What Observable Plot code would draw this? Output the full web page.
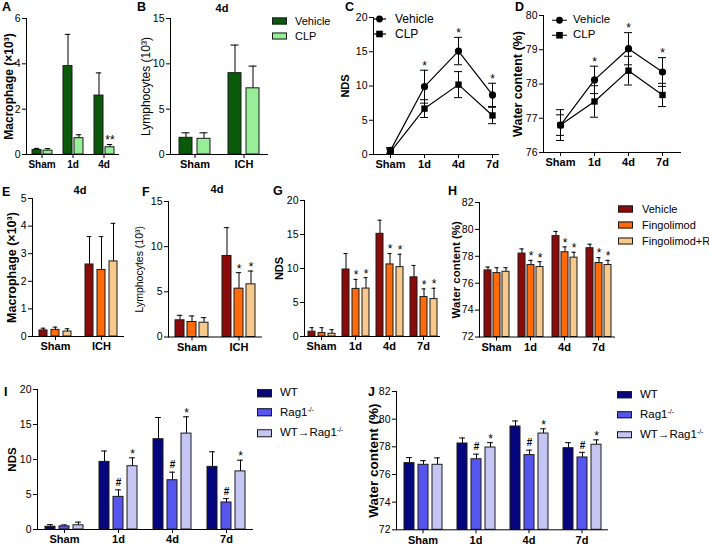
<!DOCTYPE html>
<html><head><meta charset="utf-8">
<script src="https://cdn.jsdelivr.net/npm/d3@7"></script>
<script src="https://cdn.jsdelivr.net/npm/@observablehq/plot@0.6"></script>
<style>
body{margin:0;background:#fff;font-family:"Liberation Sans",Arial,sans-serif;color:#000;}
#fig{position:relative;width:709px;height:545px;overflow:hidden;background:#fff;}
.panel{position:absolute;}
.panel svg{max-width:none !important;overflow:visible;}
.txt{position:absolute;white-space:nowrap;line-height:1;}
.letter{font-weight:bold;font-size:12.5px;}
.ttl{font-weight:bold;font-size:11px;transform:translate(-50%,-50%);}
.leg{position:absolute;display:flex;align-items:center;white-space:nowrap;line-height:1;transform:translateY(-50%);}
.sw{display:inline-block;border:1px solid #1a1a1a;box-sizing:border-box;}
sup{font-size:0.6em;vertical-align:0.6em;line-height:0;}
</style></head>
<body><div id="fig"></div>
<script>
// ---------- DATA ----------
const catsA = ["Sham", "1d", "4d"];
const catsICH = ["Sham", "ICH"];
const catsT = ["Sham", "1d", "4d", "7d"];
const grpVC = ["Vehicle", "CLP"];
const grpF = ["Vehicle", "Fingolimod", "Fingolimod+R"];
const grpR = ["WT", "Rag1-/-", "WT→Rag1-/-"];
const colVC = ["#0b5a0b", "#98ee98"];
const colF = ["#8b0a0a", "#ff6a0a", "#f8c98c"];
const colR = ["#05057e", "#5656ee", "#c6c6f4"];

// A: Macrophage (×10³)
const aVeh = [0.2, 3.9, 2.6], aVehErr = [0.07, 1.4, 1.0];
const aClp = [0.17, 0.72, 0.32], aClpErr = [0.09, 0.15, 0.12];
const aSig = [["", "", ""], ["", "", "**"]];
// B: Lymphocytes (10³), 4d
const bVeh = [1.84, 8.97], bVehErr = [0.55, 3.1];
const bClp = [1.73, 7.3], bClpErr = [0.66, 2.45];
// C: NDS
const cVeh = [0.6, 9.9, 15.1, 8.7], cVehErr = [0.4, 2.4, 2.0, 1.7];
const cClp = [0.4, 6.7, 10.2, 5.7], cClpErr = [0.4, 1.3, 1.9, 1.2];
const cSig = [["", "*", "*", "*"], ["", "", "", ""]];
// D: Water content (%)
const dVeh = [76.8, 78.12, 79.03, 78.35], dVehErr = [0.3, 0.4, 0.47, 0.42];
const dClp = [76.8, 77.49, 78.39, 77.68], dClpErr = [0.45, 0.46, 0.42, 0.34];
const dSig = [["", "*", "*", "*"], ["", "", "", ""]];
// E: Macrophage (×10³), 4d
const eVeh = [0.22, 2.61], eVehErr = [0.08, 1.01];
const eFin = [0.24, 2.41], eFinErr = [0.1, 1.21];
const eFr = [0.18, 2.72], eFrErr = [0.1, 1.38];
// F: Lymphocytes (10³), 4d
const fVeh = [1.85, 8.97], fVehErr = [0.55, 3.13];
const fFin = [1.66, 5.35], fFinErr = [0.67, 1.77];
const fFr = [1.58, 5.83], fFrErr = [0.56, 1.47];
const fSig = [["", ""], ["", "*"], ["", "*"]];
// G: NDS
const gVeh = [0.7, 9.85, 15.1, 8.7], gVehErr = [0.6, 2.35, 2.0, 1.75];
const gFin = [0.5, 7.0, 10.6, 5.8], gFinErr = [0.8, 1.4, 1.6, 1.2];
const gFr = [0.4, 7.05, 10.2, 5.5], gFrErr = [0.6, 1.6, 1.9, 1.6];
const gSig = [["", "", "", ""], ["", "*", "*", "*"], ["", "*", "*", "*"]];
// H: Water content (%)
const hVeh = [76.95, 78.2, 79.5, 78.6], hVehErr = [0.25, 0.35, 0.35, 0.3];
const hFin = [76.75, 77.35, 78.3, 77.5], hFinErr = [0.4, 0.35, 0.4, 0.4];
const hFr = [76.85, 77.2, 77.9, 77.35], hFrErr = [0.3, 0.4, 0.4, 0.35];
// I: NDS
const iWt = [0.4, 9.66, 12.9, 8.95], iWtErr = [0.3, 1.55, 3.1, 2.15];
const iRag = [0.45, 4.66, 7.04, 3.86], iRagErr = [0.2, 1.0, 1.15, 0.55];
const iWtr = [0.6, 9.04, 13.7, 8.3], iWtrErr = [0.45, 1.2, 2.4, 1.6];
const rSig = [["", "", "", ""], ["", "#", "#", "#"], ["", "*", "*", "*"]];
// J: Water content (%)
const jWt = [76.82, 78.24, 79.47, 77.9], jWtErr = [0.4, 0.4, 0.4, 0.4];
const jRag = [76.7, 77.1, 77.4, 77.23], jRagErr = [0.3, 0.37, 0.36, 0.37];
const jWtr = [76.7, 77.95, 78.96, 78.15], jWtrErr = [0.5, 0.35, 0.34, 0.35];

const ticks05 = [0, 1, 2, 3, 4, 5], ticks06 = [0, 2, 4, 6], ticks15 = [0, 5, 10, 15], ticks20 = [0, 5, 10, 15, 20];
const ticks7682 = [72, 74, 76, 78, 80, 82], ticks7680 = [76, 77, 78, 79, 80];

// ---------- HELPERS ----------
const fig = document.getElementById("fig");
const FONT = '"Liberation Sans", Arial, sans-serif';
function rows(cats, groups, means, errs, sigs) {
  const out = [];
  groups.forEach((g, gi) => cats.forEach((c, ci) => out.push({cat: c, group: g, v: means[gi][ci], e: errs[gi][ci], sig: sigs ? sigs[gi][ci] : ""})));
  return out;
}
function place(svg, left, top, lab) {
  const d = document.createElement("div");
  d.className = "panel"; d.style.left = left + "px"; d.style.top = top + "px";
  d.appendChild(svg); fig.appendChild(d);
  const l = svg.querySelector('[aria-label="y-axis label"]');
  if (l && lab) { l.style.fontSize = lab.size + "px"; l.style.fontWeight = lab.bold ? "bold" : "normal"; }
}
function sigMarks(data, fx, x) {
  const base = {fx, x, y: d => d.v + d.e, text: "sig", fill: "black", lineAnchor: "middle"};
  return [
    Plot.text(data, {...base, filter: d => d.sig && d.sig !== "#", fontSize: 12, dy: -4}),
    Plot.text(data, {...base, filter: d => d.sig === "#", fontSize: 10, fontWeight: "bold", dy: -7})
  ];
}
const fmtTick = d => String(d);
function barPanel(c) {
  const n = c.groups.length, F = (c.x1 - c.x0) / c.cats.length;
  const s = c.bw + c.gap, pi = c.gap / s, po = (F / s - n + pi) / 2;
  const mL = 30, mT = 8, mR = 4, mB = 24;
  const W = c.x1 - c.x0 + mL + mR, H = c.yBot - c.yTop + mT + mB;
  const data = rows(c.cats, c.groups, c.means, c.errs, c.sigs);
  const y0 = c.yDomain[0];
  const svg = Plot.plot({
    width: W, height: H, marginLeft: mL, marginRight: mR, marginTop: mT, marginBottom: mB,
    style: {fontFamily: FONT, fontSize: "10px", color: "black", background: "transparent", overflow: "visible"},
    fx: {domain: c.cats, padding: 0},
    x: {domain: c.groups, paddingInner: pi, paddingOuter: po, axis: null},
    y: {domain: c.yDomain},
    color: {domain: c.groups, range: c.colors},
    marks: [
      Plot.ruleX(data, {fx: "cat", x: "group", y1: "v", y2: d => d.v + d.e, stroke: "black"}),
      Plot.tickY(data, {fx: "cat", x: "group", y: d => d.v + d.e, insetLeft: c.bw * 0.2, insetRight: c.bw * 0.2, stroke: "black"}),
      Plot.barY(data, {fx: "cat", x: "group", y1: y0, y2: "v", fill: "group", stroke: "#1a1a1a", strokeWidth: 1}),
      ...sigMarks(data, "cat", "group"),
      Plot.ruleY([y0], {stroke: "black"}),
      Plot.frame({anchor: "left", facetAnchor: "left", stroke: "black"}),
      Plot.axisY({ticks: c.yTicks, tickFormat: fmtTick, tickSize: 4, tickPadding: 2, fontSize: c.fy || 10.5, label: c.ylabel, labelAnchor: "center", labelArrow: "none", labelOffset: c.x0 - c.labCx + 5}),
      Plot.axisFx({anchor: "bottom", tickSize: 4, tickPadding: 2, fontSize: c.fx || 11, fontWeight: "bold", label: null})
    ]
  });
  place(svg, c.x0 - mL, c.yTop - mT, c.lab);
}
function linePanel(c) {
  const mL = 30, mT = 8, mR = 4, mB = 24;
  const W = c.x1 - c.x0 + mL + mR, H = c.yBot - c.yTop + mT + mB;
  const data = rows(c.cats, c.groups, c.means, c.errs, c.sigs);
  const svg = Plot.plot({
    width: W, height: H, marginLeft: mL, marginRight: mR, marginTop: mT, marginBottom: mB,
    style: {fontFamily: FONT, fontSize: "10px", color: "black", background: "transparent", overflow: "visible"},
    x: {type: "point", domain: c.cats, padding: 0, insetLeft: c.inL, insetRight: c.inR},
    y: {domain: c.yDomain},
    symbol: {domain: c.groups, range: ["circle", "square"]},
    marks: [
      Plot.ruleX(data, {x: "cat", y1: d => d.v - d.e, y2: d => d.v + d.e, stroke: "black"}),
      Plot.ruleY(data, {x1: "cat", x2: "cat", y: d => d.v + d.e, insetLeft: -4, insetRight: -4, stroke: "black"}),
      Plot.ruleY(data, {x1: "cat", x2: "cat", y: d => d.v - d.e, insetLeft: -4, insetRight: -4, stroke: "black"}),
      Plot.line(data, {x: "cat", y: "v", z: "group", stroke: "black", strokeWidth: 1.2}),
      Plot.dot(data, {x: "cat", y: "v", symbol: "group", fill: "black", r: 3.6}),
      ...sigMarks(data, undefined, "cat"),
      Plot.frame({anchor: "left", stroke: "black"}),
      Plot.frame({anchor: "bottom", stroke: "black"}),
      Plot.axisY({ticks: c.yTicks, tickFormat: fmtTick, tickSize: 4, tickPadding: 2, fontSize: 10.5, label: c.ylabel, labelAnchor: "center", labelArrow: "none", labelOffset: c.x0 - c.labCx + 5}),
      Plot.axisX({tickSize: 4, tickPadding: 2, fontSize: 11, fontWeight: "bold", label: null})
    ]
  });
  place(svg, c.x0 - mL, c.yTop - mT, c.lab);
}
function text(cls, str, x, y) {
  const d = document.createElement("div");
  d.className = "txt " + cls; d.textContent = str;
  d.style.left = x + "px"; d.style.top = y + "px"; fig.appendChild(d);
}
function fmt(g) { return g.replace(/-\/-/g, "<sup>-/-</sup>"); }
function swatchLegend(groups, colors, x, ys, size, sw) {
  groups.forEach((g, i) => {
    const d = document.createElement("div");
    d.className = "leg"; d.style.left = x + "px"; d.style.top = ys[i] + "px"; d.style.fontSize = size + "px";
    d.innerHTML = `<span class="sw" style="width:${sw[0]}px;height:${sw[1]}px;background:${colors[i]};margin-right:${sw[2]}px"></span><span>${fmt(g)}</span>`;
    fig.appendChild(d);
  });
}
function lineLegend(groups, x, ys, size, len, gapTxt) {
  const syms = ["circle", "square"];
  groups.forEach((g, i) => {
    const d = document.createElement("div");
    d.className = "leg"; d.style.left = x + "px"; d.style.top = ys[i] + "px"; d.style.fontSize = size + "px";
    const m = len / 2;
    const mk = syms[i] === "circle" ? `<circle cx="${m}" cy="5" r="3.4" fill="black"/>` : `<rect x="${m - 3.3}" y="1.7" width="6.6" height="6.6" fill="black"/>`;
    d.innerHTML = `<svg width="${len}" height="10" style="margin-right:${gapTxt}px"><line x1="0" x2="${len}" y1="5" y2="5" stroke="black" stroke-width="1.2"/>${mk}</svg><span>${g}</span>`;
    fig.appendChild(d);
  });
}

// ---------- PANELS ----------
function safe(f, c) { try { f(c); } catch (e) { console.error(e); } }
safe(barPanel, {x0: 25, x1: 120, yTop: 18, yBot: 154, cats: catsA, groups: grpVC, colors: colVC,
  means: [aVeh, aClp], errs: [aVehErr, aClpErr], sigs: aSig, yDomain: [0, 6], yTicks: ticks06,
  ylabel: "Macrophage (×10³)", labCx: 8, lab: {size: 12, bold: true}, bw: 9, gap: 2.5, fx: 10});
safe(barPanel, {x0: 170, x1: 268, yTop: 18, yBot: 154, cats: catsICH, groups: grpVC, colors: colVC,
  means: [bVeh, bClp], errs: [bVehErr, bClpErr], yDomain: [0, 15], yTicks: ticks15,
  ylabel: "Lymphocytes (10³)", labCx: 146, lab: {size: 12, bold: false}, bw: 12.5, gap: 5.5});
safe(linePanel, {x0: 373, x1: 498, yTop: 17, yBot: 154, cats: catsT, groups: grpVC,
  means: [cVeh, cClp], errs: [cVehErr, cClpErr], sigs: cSig, yDomain: [0, 20], yTicks: ticks20,
  ylabel: "NDS", labCx: 346, lab: {size: 11, bold: true}, inL: 16, inR: 5});
safe(linePanel, {x0: 543, x1: 680, yTop: 15, yBot: 152, cats: catsT, groups: grpVC,
  means: [dVeh, dClp], errs: [dVehErr, dClpErr], sigs: dSig, yDomain: [76, 80], yTicks: ticks7680,
  ylabel: "Water content (%)", labCx: 518, lab: {size: 12.5, bold: true}, inL: 16, inR: 17});
safe(barPanel, {x0: 31, x1: 124, yTop: 198, yBot: 336, cats: catsICH, groups: grpF, colors: colF,
  means: [eVeh, eFin, eFr], errs: [eVehErr, eFinErr, eFrErr], yDomain: [0, 5], yTicks: ticks05,
  ylabel: "Macrophage (×10³)", labCx: 11, lab: {size: 12.5, bold: true}, bw: 8.5, gap: 4});
safe(barPanel, {x0: 168, x1: 262, yTop: 200.5, yBot: 336, cats: catsICH, groups: grpF, colors: colF,
  means: [fVeh, fFin, fFr], errs: [fVehErr, fFinErr, fFrErr], sigs: fSig, yDomain: [0, 15], yTicks: ticks15,
  ylabel: "Lymphocytes (10³)", labCx: 140, lab: {size: 10.5, bold: false}, bw: 9, gap: 3.5});
safe(barPanel, {x0: 302, x1: 441, yTop: 200, yBot: 336, cats: catsT, groups: grpF, colors: colF,
  means: [gVeh, gFin, gFr], errs: [gVehErr, gFinErr, gFrErr], sigs: gSig, yDomain: [0, 20], yTicks: ticks20,
  ylabel: "NDS", labCx: 278, lab: {size: 11, bold: true}, bw: 7.5, gap: 3.5});
safe(barPanel, {x0: 479, x1: 615, yTop: 201.5, yBot: 336, cats: catsT, groups: grpF, colors: colF,
  means: [hVeh, hFin, hFr], errs: [hVehErr, hFinErr, hFrErr], sigs: gSig, yDomain: [72, 82], yTicks: ticks7682,
  ylabel: "Water content (%)", labCx: 456, lab: {size: 11.5, bold: true}, bw: 7, gap: 2.5});
safe(barPanel, {x0: 37, x1: 253, yTop: 389, yBot: 529, cats: catsT, groups: grpR, colors: colR,
  means: [iWt, iRag, iWtr], errs: [iWtErr, iRagErr, iWtrErr], sigs: rSig, yDomain: [0, 20], yTicks: ticks20,
  ylabel: "NDS", labCx: 12, lab: {size: 11.5, bold: true}, bw: 10.5, gap: 4});
safe(barPanel, {x0: 395, x1: 608, yTop: 390.7, yBot: 529, cats: catsT, groups: grpR, colors: colR,
  means: [jWt, jRag, jWtr], errs: [jWtErr, jRagErr, jWtrErr], sigs: rSig, yDomain: [72, 82], yTicks: ticks7682,
  ylabel: "Water content (%)", labCx: 372, lab: {size: 13.5, bold: true}, bw: 10.5, gap: 4.5});

// ---------- TEXT: panel letters, titles, legends ----------
[["A", 2, 1], ["B", 137, 1], ["C", 345, 1], ["D", 515, 1], ["E", 2, 186], ["F", 142, 186],
 ["G", 273, 185], ["H", 448, 185], ["I", 4, 386], ["J", 368, 386]].forEach(([s, x, y]) => text("letter", s, x, y));
text("ttl", "4d", 222, 8); text("ttl", "4d", 80, 190); text("ttl", "4d", 217, 189);
swatchLegend(grpVC, colVC, 272, [21, 36], 11, [15, 7, 8]);
swatchLegend(grpF, colF, 618, [209, 224.5, 240.5], 11, [15, 7, 9]);
swatchLegend(grpR, colR, 257, [393, 412.5, 433], 11.5, [15, 8, 8]);
swatchLegend(grpR, colR, 617, [395, 415, 435], 11.5, [15, 7, 8]);
lineLegend(grpVC, 373, [19, 34], 12, 13, 9);
lineLegend(grpVC, 552, [20, 35], 11.5, 15, 6);
</script></body></html>
